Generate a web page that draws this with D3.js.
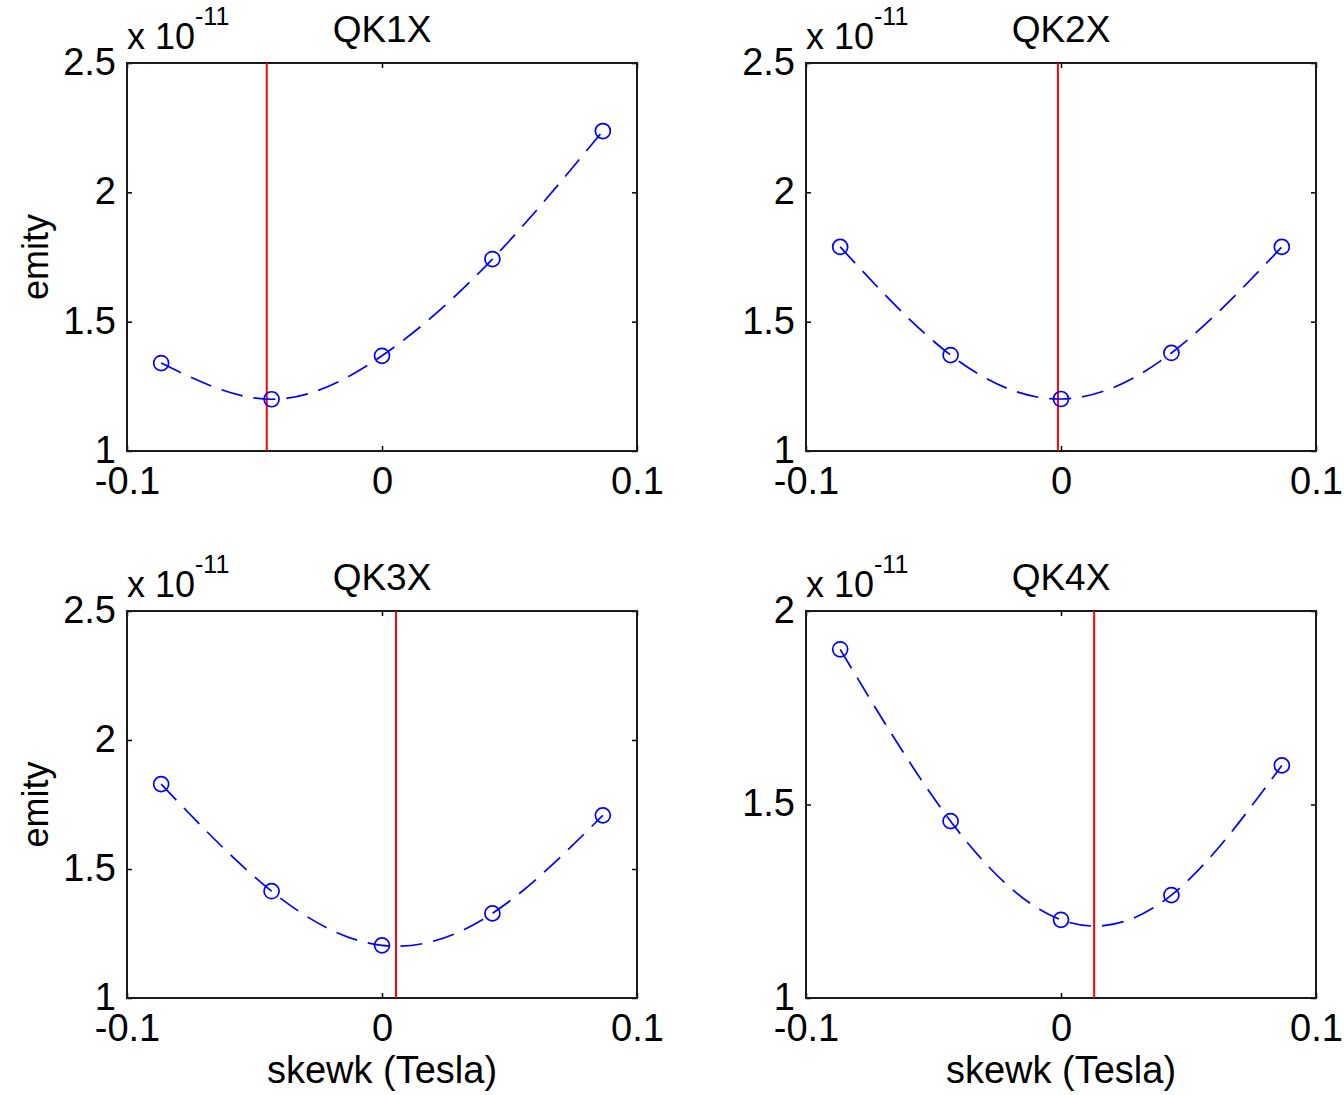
<!DOCTYPE html>
<html>
<head>
<meta charset="utf-8">
<script src="https://cdn.jsdelivr.net/npm/d3@7"></script>
<style>
  body { margin: 0; background: #fff; }
  svg { display: block; font-family: "Liberation Sans", Arial, Helvetica, sans-serif; }
</style>
</head>
<body>
<svg id="chart" width="1344" height="1095"></svg>
<script>
// skew strengths scanned (Tesla), same for every magnet
var skewk = [-0.0866, -0.0433, 0, 0.0433, 0.0866];

var titles = ["QK1X", "QK2X", "QK3X", "QK4X"];

// emittance, in units of 1e-11
var emitQK1 = [1.340, 1.200, 1.368, 1.742, 2.237];
var emitQK2 = [1.789, 1.371, 1.201, 1.379, 1.789];
var emitQK3 = [1.829, 1.414, 1.204, 1.328, 1.708];
var emitQK4 = [1.901, 1.457, 1.202, 1.266, 1.601];

// minimum of the fitted curve (red marker)
var optimum = [-0.0452, -0.0012, 0.0055, 0.013];

var xTicks = [-0.1, 0, 0.1];
var yTicksA = [1, 1.5, 2, 2.5];
var yTicksB = [1, 1.5, 2];

var series = [emitQK1, emitQK2, emitQK3, emitQK4];
var yTickSets = [yTicksA, yTicksA, yTicksA, yTicksB];

var svg = d3.select("#chart");

var panels = [
  {left: 127, top: 63, w: 510, h: 388},
  {left: 806, top: 63, w: 510, h: 388},
  {left: 127, top: 611, w: 510, h: 387},
  {left: 806, top: 611, w: 510, h: 387}
];

var fmt = function (d) { return String(d); };

panels.forEach(function (p, i) {
  var yt = yTickSets[i];
  var x = d3.scaleLinear().domain([-0.1, 0.1]).range([0, p.w]),
      y = d3.scaleLinear().domain([yt[0], yt[yt.length - 1]]).range([p.h, 0]);

  var g = svg.append("g").attr("transform", "translate(" + p.left + "," + p.top + ")");

  // axes, ticks pointing inward
  g.append("g").attr("transform", "translate(0," + p.h + ")")
    .call(d3.axisBottom(x).tickValues(xTicks).tickSize(-5).tickPadding(16).tickFormat(fmt));
  g.append("g")
    .call(d3.axisTop(x).tickValues(xTicks).tickSize(-5).tickFormat(""));
  var left = g.append("g")
    .call(d3.axisLeft(y).tickValues(yt).tickSize(-5).tickPadding(11).tickFormat(fmt));
  g.append("g").attr("transform", "translate(" + p.w + ",0)")
    .call(d3.axisRight(y).tickValues(yt).tickSize(-5).tickFormat(""));

  g.selectAll(".domain").remove();
  g.selectAll(".tick line").attr("stroke", "#000").attr("stroke-width", 1.5);
  g.selectAll(".tick text").attr("fill", "#000").style("font-size", "38px");
  left.selectAll(".tick text").attr("dy", "0.3em");

  g.append("rect")
    .attr("x", 0).attr("y", 0).attr("width", p.w).attr("height", p.h)
    .attr("fill", "none").attr("stroke", "#1a1a1a").attr("stroke-width", 2);

  // red line at optimum
  g.append("line")
    .attr("x1", x(optimum[i])).attr("x2", x(optimum[i]))
    .attr("y1", 0).attr("y2", p.h)
    .attr("stroke", "#ff0000").attr("stroke-width", 2);

  var pts = skewk.map(function (k, j) { return {k: k, e: series[i][j]}; });

  var line = d3.line()
    .curve(d3.curveNatural)
    .x(function (d) { return x(d.k); })
    .y(function (d) { return y(d.e); });

  g.append("path")
    .datum(pts)
    .attr("d", line)
    .attr("fill", "none")
    .attr("stroke", "#0000ff")
    .attr("stroke-width", 1.7)
    .attr("stroke-dasharray", "22,11");

  g.selectAll(".pt")
    .data(pts)
    .enter().append("circle")
      .attr("class", "pt")
      .attr("cx", function (d) { return x(d.k); })
      .attr("cy", function (d) { return y(d.e); })
      .attr("r", 7.5)
      .attr("fill", "none")
      .attr("stroke", "#0000ff")
      .attr("stroke-width", 1.7);

  // title
  g.append("text")
    .attr("x", p.w / 2).attr("y", -21)
    .attr("text-anchor", "middle")
    .style("font-size", "37px")
    .text(titles[i]);

  // exponent label
  var ex = g.append("text").attr("x", 0).attr("y", -14).style("font-size", "36px");
  ex.append("tspan").text("x 10");
  ex.append("tspan").attr("dy", -24).style("font-size", "25px").text("-11");

  if (i % 2 === 0) {
    g.append("text")
      .attr("transform", "translate(" + (48 - p.left) + "," + (p.h / 2) + ") rotate(-90)")
      .attr("text-anchor", "middle")
      .style("font-size", "36px")
      .text("emity");
  }
  if (i >= 2) {
    g.append("text")
      .attr("x", p.w / 2).attr("y", p.h + 85)
      .attr("text-anchor", "middle")
      .style("font-size", "38px")
      .text("skewk (Tesla)");
  }
});
</script>
</body>
</html>
